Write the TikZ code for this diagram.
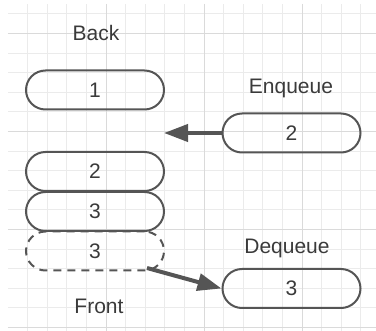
\documentclass[tikz,border=0pt]{standalone}
\usepackage{fontspec}
\setmainfont{Liberation Sans}
\usetikzlibrary{arrows.meta}
\definecolor{minorgrid}{HTML}{EBEBEB}
\definecolor{majorgrid}{HTML}{DADADA}
\definecolor{ink}{HTML}{555555}
\definecolor{txt}{HTML}{3A3A3A}
\tikzset{
  pill/.style={draw=ink, line width=2pt, rounded corners=19.5pt, minimum width=138pt, minimum height=39pt, inner sep=0pt, text=txt, font=\fontsize{21}{25}\selectfont},
  dpill/.style={pill, dash pattern=on 8pt off 6pt},
  lbl/.style={text=txt, font=\fontsize{21}{25}\selectfont, inner sep=0pt},
  bigarrow/.style={draw=ink, line width=4pt, -{Triangle[length=24pt,width=17pt]}}
}
\begin{document}
\begin{tikzpicture}[x=1pt,y=-1pt]
\useasboundingbox (0,0) rectangle (376,331);
% grid
\foreach \k in {0,...,17} {
  \pgfmathsetmacro{\gx}{27.7+19.6*\k}
  \draw[minorgrid, line width=1pt] (\gx,4) -- (\gx,331);
}
\foreach \k in {0,...,16} {
  \pgfmathsetmacro{\gy}{14+19.6*\k}
  \draw[minorgrid, line width=1pt] (8,\gy) -- (376,\gy);
}
\foreach \gx in {106,204,302} \draw[majorgrid, line width=1pt] (\gx,4) -- (\gx,331);
\foreach \gy in {33.6,131.6,229.6,327.6} \draw[majorgrid, line width=1pt] (8,\gy) -- (376,\gy);

% labels
\node[lbl] (back) at (96,33) {Back};
\node[lbl] (enq) at (291,88) {Enqueue};
\node[lbl] (deq) at (287,248) {Dequeue};
\node[lbl] (front) at (99,306) {Front};

% queue
\node[pill] (q1) at (95,90) {1};
\node[pill] (q2) at (95,171.5) {2};
\node[pill] (q3) at (95,211.5) {3};
\node[dpill] (q4) at (95,251) {3};

% enqueue / dequeue items
\node[pill] (e2) at (291.5,133) {2};
\node[pill] (d3) at (291.5,288.5) {3};

\coordinate (enqtip) at (164,133);
\draw[bigarrow] (e2.west) -- (enqtip);
\coordinate (deqstart) at (147,268);
\draw[bigarrow] (deqstart) -- (d3.west);
\end{tikzpicture}
\end{document}
